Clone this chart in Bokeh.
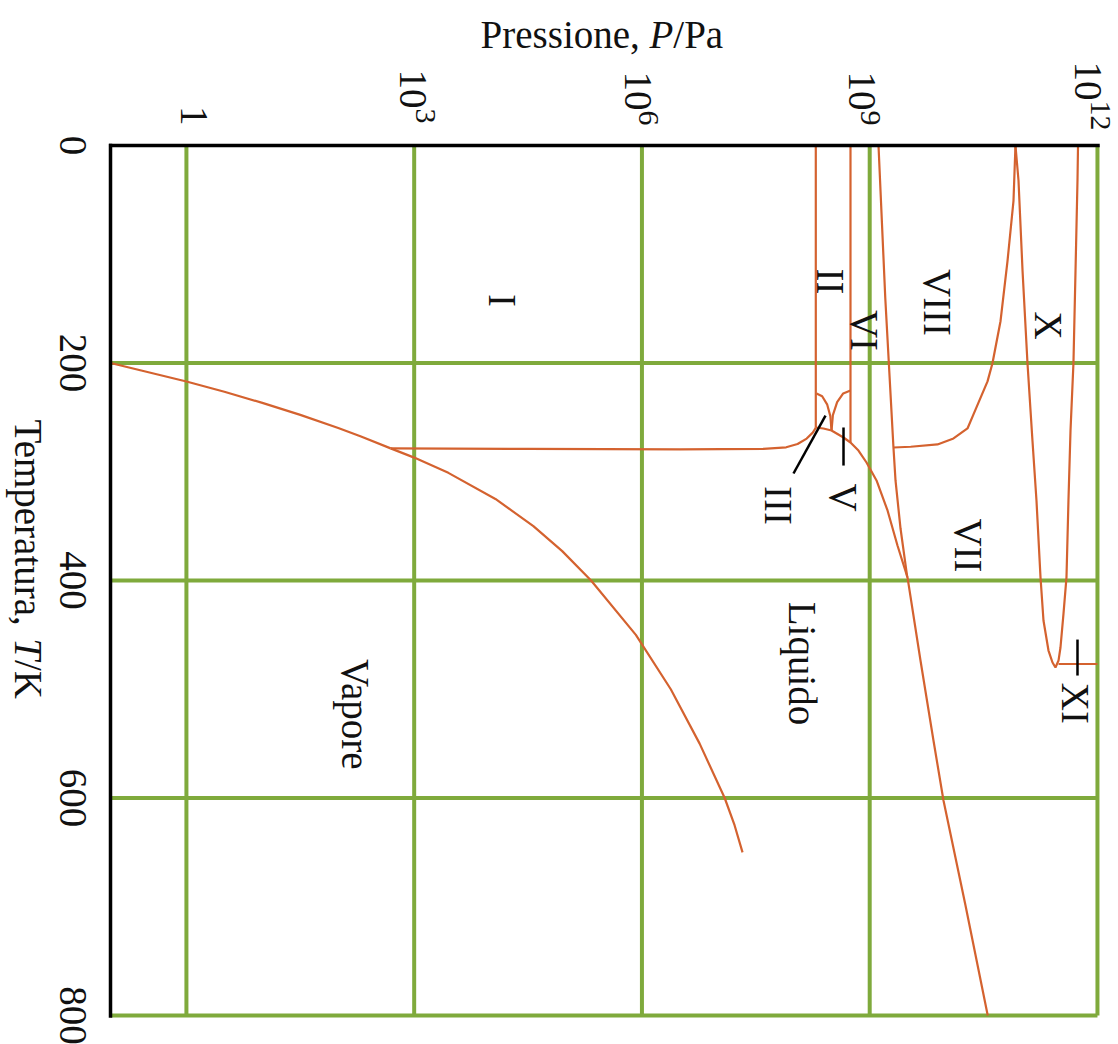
import math
from bokeh.plotting import figure
from bokeh.models import Range1d, Label
from bokeh.embed import file_html
from bokeh.resources import INLINE

# ---------------- data (x = log10 P/Pa, y = T/K) ----------------
p_ticks = [0, 3, 6, 9, 12]
t_ticks = [0, 200, 400, 600, 800]
t_tick_labels = ["0", "200", "400", "600", "800"]
p_min, p_max = -1, 12
t_min, t_max = 0, 800

sub_logp = [-1.0, -0.5, 0.0, 0.5, 1.0, 1.5, 2.0, 2.3, 2.69]
sub_T = [200.0, 208.5, 217.0, 226.4, 236.7, 247.7, 259.7, 267.5, 278.5]

vap_logp = [2.69, 3.0, 3.45, 4.07, 4.57, 4.95, 5.33, 5.92, 6.38, 6.76, 7.09, 7.22, 7.325]
vap_T = [278.5, 287, 301, 325, 350, 373, 400, 450, 500, 550, 600, 625, 650]

meltI_logp = [2.69, 4.5, 6.5, 7.6, 7.9, 8.05, 8.17, 8.25, 8.29]
meltI_T = [278.5, 279.0, 279.5, 279.0, 277.5, 274.5, 269.5, 264.0, 259.5]

ice1_logp = [8.29, 8.29]
ice1_T = [0, 259.5]

arc23_logp = [8.299, 8.374, 8.439, 8.482, 8.497]
arc23_T = [228.0, 230.6, 238.0, 249.0, 262.1]

arc25_logp = [8.747, 8.651, 8.571, 8.515, 8.497]
arc25_T = [225.3, 228.0, 236.0, 248.0, 262.1]

ice6_logp = [8.747, 8.747]
ice6_T = [0, 273.0]

meltH_logp = [8.29, 8.391, 8.497, 8.655, 8.747, 8.852, 8.958, 9.090, 9.235, 9.366,
              9.498, 9.669, 9.840, 9.972, 10.262, 10.555]
meltH_T = [259.3, 260.2, 262.1, 268.5, 273.1, 280.5, 291.5, 308.0, 335.6, 367.8,
           397.2, 473.6, 547.1, 602.3, 698.9, 800.0]

ice67_logp = [9.116, 9.205, 9.313, 9.340, 9.406, 9.495]
ice67_T = [0, 140, 277.7, 308, 352.2, 397.2]

ice8_logp = [9.313, 9.54, 9.893, 10.104, 10.288, 10.367, 10.552, 10.617, 10.723, 10.815, 10.894, 10.92]
ice8_T = [277.7, 277.0, 274.9, 269.4, 260.2, 247.3, 216.9, 200.3, 161.6, 106.3, 51.0, 0]

iceX_logp = [10.92, 10.96, 11.013, 11.078, 11.144, 11.197, 11.25, 11.289, 11.355, 11.408, 11.447,
             11.487, 11.513, 11.553, 11.592, 11.618, 11.645, 11.684, 11.711, 11.737, 11.744]
iceX_T = [0, 32.2, 114.9, 199.8, 271.5, 326.7, 397.2, 436.8, 464.4, 475.4, 480.0,
          473.6, 461.6, 430.3, 397.2, 326.7, 262.3, 199.8, 114.9, 32.2, 0]

iceXI_logp = [11.487, 12.0]
iceXI_T = [476.8, 476.8]

# pointer marks (black)
ptr_III_logp = [8.418, 7.996]
ptr_III_T = [248.3, 301.6]
ptr_V_logp = [8.655, 8.655]
ptr_V_T = [259.3, 294.3]
ptr_XI_logp = [11.737, 11.737]
ptr_XI_T = [454.3, 487.4]

region_names = ["I", "II", "VI", "VIII", "X", "VII", "Liquido", "Vapore", "III", "V", "XI"]
region_logp = [4.163, 8.484, 8.932, 9.893, 11.355, 10.301, 8.115, 2.227, 7.799, 8.655, 11.711]
region_T = [142.5, 125.0, 170.1, 144.4, 165.5, 367.8, 476.3, 523.0, 331.0, 323.7, 513.0]

# ---------------- figure ----------------
FONT = "Liberation Serif"
ORANGE = "#d4622f"
GREEN = "#7faa3c"

W, H = 1118, 1044
PX_PER_DEC = 75.92     # pixels per decade of pressure
PX_PER_K = 1.0875      # pixels per kelvin
X0, Y0 = 110, 145      # where (p_min, t_min) sits in the canvas
xr0 = p_min - X0 / PX_PER_DEC
yr0 = t_min - Y0 / PX_PER_K

p = figure(width=W, height=H,
           x_range=Range1d(xr0, xr0 + W / PX_PER_DEC),
           y_range=Range1d(yr0 + H / PX_PER_K, yr0),
           output_backend="svg", toolbar_location=None,
           x_axis_location=None, y_axis_location=None,
           min_border=0)
p.outline_line_color = None
p.background_fill_color = "white"
p.grid.visible = False

# green grid (drawn from tick lists)
p.segment(x0=p_ticks, y0=[t_min] * len(p_ticks), x1=p_ticks, y1=[t_max] * len(p_ticks),
          line_color=GREEN, line_width=4)
p.segment(x0=[p_min] * 4, y0=t_ticks[1:], x1=[p_max] * 4, y1=t_ticks[1:],
          line_color=GREEN, line_width=4)

curves = [(sub_logp, sub_T), (vap_logp, vap_T), (meltI_logp, meltI_T), (ice1_logp, ice1_T),
          (arc23_logp, arc23_T), (arc25_logp, arc25_T), (ice6_logp, ice6_T),
          (meltH_logp, meltH_T), (ice67_logp, ice67_T), (ice8_logp, ice8_T),
          (iceX_logp, iceX_T), (iceXI_logp, iceXI_T)]
for xs, ys in curves:
    p.line(xs, ys, line_color=ORANGE, line_width=2.2)

for xs, ys in [(ptr_III_logp, ptr_III_T), (ptr_V_logp, ptr_V_T), (ptr_XI_logp, ptr_XI_T)]:
    p.line(xs, ys, line_color="black", line_width=2.5)

# black frame on top and left
p.line([p_min - 0.02, p_max + 0.03], [t_min, t_min], line_color="black", line_width=3.5)
p.line([p_min, p_min], [t_min - 1.5, t_max + 2], line_color="black", line_width=3.5)

ROT = -math.pi / 2

def lab(x, y, text, size="39px", align="center", angle=ROT, style="normal"):
    p.add_layout(Label(x=x, y=y, text=text, angle=angle, text_font=FONT, text_font_size=size,
                       text_align=align, text_baseline="middle", text_color="#111111",
                       text_font_style=style))

for name, x, y in zip(region_names, region_logp, region_T):
    lab(x, y, name)

# temperature tick labels (left)
for t, s in zip(t_ticks, t_tick_labels):
    lab(-1.494, t, s)

# pressure tick labels (top)
lab(0.100, -18.4, "1", align="right")
main_x = [2.985, 5.948, 8.892, 11.869]
main_end = [-34.0, -32.2, -32.2, -41.4]
exp_x = [3.143, 6.087, 9.011, 12.040]
exp_txt = ["3", "6", "9", "12"]
for mx, me, ex, et in zip(main_x, main_end, exp_x, exp_txt):
    lab(mx, me, "10", align="right")
    lab(ex, me, et, size="30px", align="left")

# axis titles
lab(3.874, -102.5, "Pressione, ", align="left", angle=0)
lab(6.0996, -102.5, "P", align="left", angle=0, style="italic")
lab(6.413, -102.5, "/Pa", align="left", angle=0)

lab(-2.080, 252.0, "Temperatura, ", align="left")
lab(-2.080, 453.2, "T", align="left", style="italic")
lab(-2.080, 473.1, "/K", align="left")

open("out.html", "w").write(file_html(p, INLINE))
